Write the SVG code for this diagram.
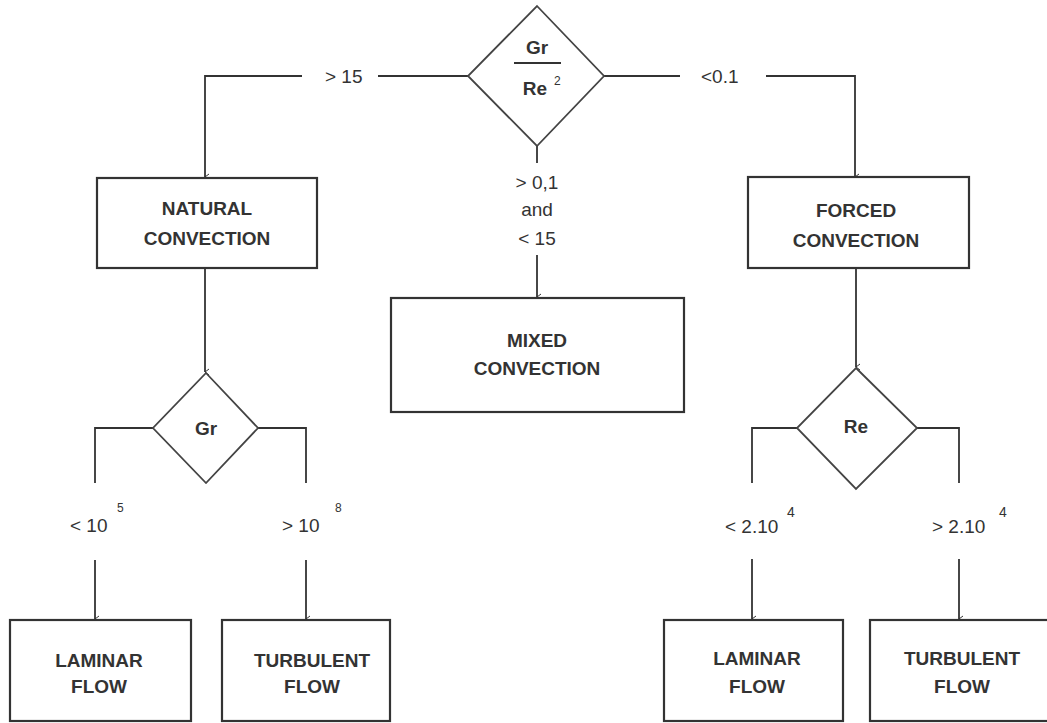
<svg xmlns="http://www.w3.org/2000/svg" width="1047" height="723" viewBox="0 0 1047 723">
<defs>
<style>
.box{fill:#fff;stroke:#333;stroke-width:2.2}
.dia{fill:#fff;stroke:#444;stroke-width:1.8}
.c{fill:none;stroke:#333;stroke-width:1.8}
.b{font-family:"Liberation Sans",Arial,sans-serif;font-weight:bold;font-size:19px;fill:#333;text-anchor:middle}
.l{font-family:"Liberation Sans",Arial,sans-serif;font-size:19px;fill:#333}
.s{font-family:"Liberation Sans",Arial,sans-serif;font-size:12px;fill:#333}
</style>
<marker id="ah" markerWidth="8" markerHeight="8" refX="4" refY="7" orient="auto" markerUnits="userSpaceOnUse" viewBox="0 0 8 8">
<path d="M1,3 L4,7 L7,3" fill="none" stroke="#333" stroke-width="1"/>
</marker>
</defs>
<rect width="1047" height="723" fill="#fff"/>

<g id="connectors">
<line class="c" x1="468" y1="76" x2="378" y2="76"/>
<polyline class="c" points="302,76 205,76 205,177" marker-end="url(#ah)"/>
<line class="c" x1="603" y1="76" x2="680" y2="76"/>
<polyline class="c" points="766,76 855,76 855,177" marker-end="url(#ah)"/>
<line class="c" x1="537" y1="146" x2="537" y2="163"/>
<line class="c" x1="537" y1="255" x2="537" y2="297" marker-end="url(#ah)"/>
<line class="c" x1="205" y1="268" x2="205" y2="372" marker-end="url(#ah)"/>
<polyline class="c" points="153,428 95,428 95,483"/>
<polyline class="c" points="258,428 306,428 306,483"/>
<line class="c" x1="95" y1="560" x2="95" y2="619" marker-end="url(#ah)"/>
<line class="c" x1="306" y1="560" x2="306" y2="619" marker-end="url(#ah)"/>
<line class="c" x1="856" y1="268" x2="856" y2="367" marker-end="url(#ah)"/>
<polyline class="c" points="797,428 752,428 752,483"/>
<polyline class="c" points="917,428 959,428 959,483"/>
<line class="c" x1="752" y1="559" x2="752" y2="619" marker-end="url(#ah)"/>
<line class="c" x1="959" y1="559" x2="959" y2="619" marker-end="url(#ah)"/>
<text class="l" x="325" y="83">&gt; 15</text>
<text class="l" x="701" y="83">&lt;0.1</text>
<text class="l" x="537" y="189" text-anchor="middle">&gt; 0,1</text>
<text class="l" x="537" y="216" text-anchor="middle">and</text>
<text class="l" x="537" y="245" text-anchor="middle">&lt; 15</text>
<text class="l" x="70" y="532">&lt; 10</text>
<text class="s" x="117" y="512">5</text>
<text class="l" x="282" y="532">&gt; 10</text>
<text class="s" x="335" y="512">8</text>
<text class="l" x="725" y="533">&lt; 2.10</text>
<text class="l" x="787" y="517" style="font-size:14px">4</text>
<text class="l" x="932" y="533">&gt; 2.10</text>
<text class="l" x="999" y="517" style="font-size:14px">4</text>
</g>

<g id="decision-main">
<polygon class="dia" points="537,6 604,76 537,146 468,76"/>
<text class="b" x="537" y="54">Gr</text>
<line x1="514" y1="63" x2="561" y2="63" stroke="#333" stroke-width="2"/>
<text class="b" x="535" y="95">Re</text>
<text class="s" x="554" y="85">2</text>
</g>

<g id="natural">
<rect class="box" x="97" y="178" width="220" height="90"/>
<text class="b" x="207" y="215">NATURAL</text>
<text class="b" x="207" y="245">CONVECTION</text>
</g>

<g id="forced">
<rect class="box" x="748" y="177" width="221" height="91"/>
<text class="b" x="856" y="217">FORCED</text>
<text class="b" x="856" y="247">CONVECTION</text>
</g>

<g id="mixed">
<rect class="box" x="391" y="298" width="293" height="114"/>
<text class="b" x="537" y="347">MIXED</text>
<text class="b" x="537" y="375">CONVECTION</text>
</g>

<g id="decision-gr">
<polygon class="dia" points="206,373 258,428 206,483 153,428"/>
<text class="b" x="206" y="435">Gr</text>
</g>

<g id="decision-re">
<polygon class="dia" points="856,368 917,428 856,489 797,428"/>
<text class="b" x="856" y="433">Re</text>
</g>

<g id="laminar-natural">
<rect class="box" x="10" y="620" width="181" height="101"/>
<text class="b" x="99" y="667">LAMINAR</text>
<text class="b" x="99" y="693">FLOW</text>
</g>

<g id="turbulent-natural">
<rect class="box" x="222" y="620" width="168" height="101"/>
<text class="b" x="312" y="667">TURBULENT</text>
<text class="b" x="312" y="693">FLOW</text>
</g>

<g id="laminar-forced">
<rect class="box" x="664" y="620" width="179" height="101"/>
<text class="b" x="757" y="665">LAMINAR</text>
<text class="b" x="757" y="693">FLOW</text>
</g>

<g id="turbulent-forced">
<rect class="box" x="870" y="620" width="182" height="101"/>
<text class="b" x="962" y="665">TURBULENT</text>
<text class="b" x="962" y="693">FLOW</text>
</g>
</svg>
